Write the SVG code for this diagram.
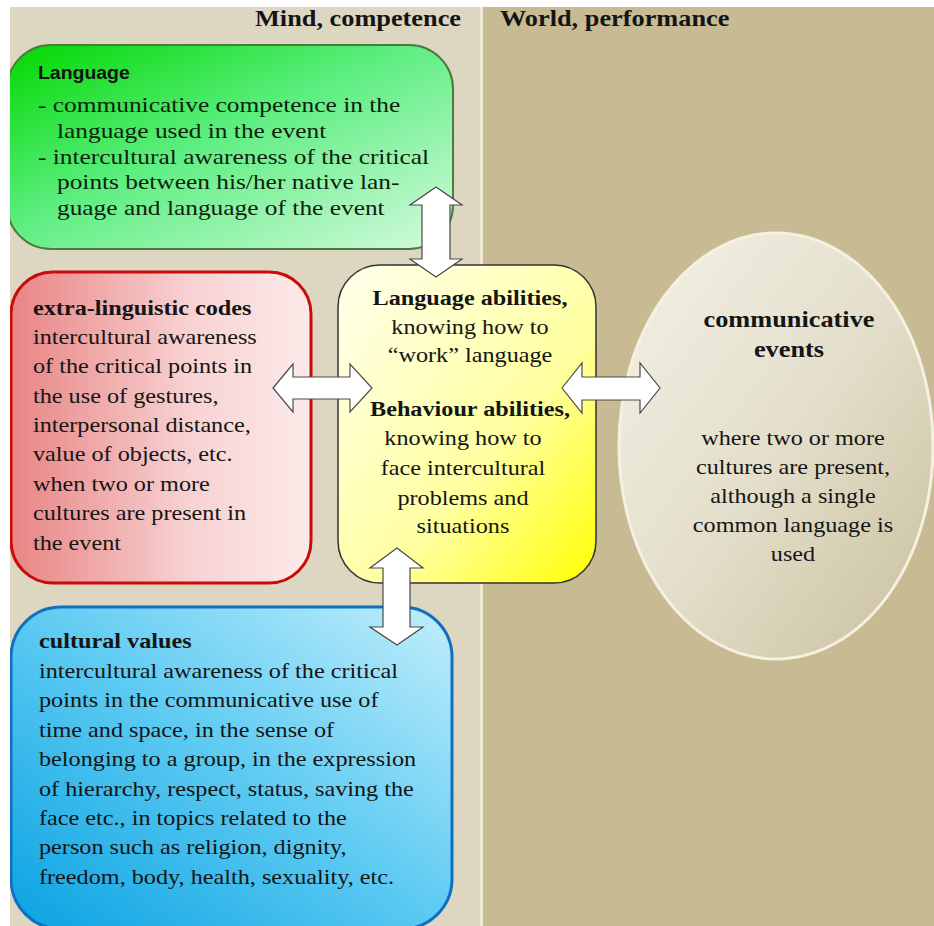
<svg xmlns="http://www.w3.org/2000/svg" width="934" height="926" viewBox="0 0 934 926">
<defs>
<style>
.t{font-family:"Liberation Serif","Times New Roman",serif;font-size:20.7px;fill:#151515}
.tg{font-family:"Liberation Serif","Times New Roman",serif;font-size:21.7px;fill:#0f1f0f}
.b{font-weight:bold}
.h{font-family:"Liberation Serif","Times New Roman",serif;font-size:22.5px;font-weight:bold;fill:#141414}
.s{font-family:"Liberation Sans",Arial,sans-serif;font-size:18px;font-weight:bold;fill:#111}
.arr{fill:#fff;stroke:#4a4a4a;stroke-width:1.2;stroke-linejoin:miter}
</style>
<linearGradient id="gGreen" x1="0" y1="0" x2="1" y2="1">
<stop offset="0" stop-color="#00d800"/>
<stop offset="0.45" stop-color="#5cee80"/>
<stop offset="1" stop-color="#d6fadf"/>
</linearGradient>
<linearGradient id="gRed" x1="0" y1="0" x2="1" y2="0">
<stop offset="0" stop-color="#e88484"/>
<stop offset="0.6" stop-color="#f8d2d2"/>
<stop offset="1" stop-color="#fdeaea"/>
</linearGradient>
<linearGradient id="gYellow" x1="0" y1="0" x2="1" y2="1">
<stop offset="0" stop-color="#ffffee"/>
<stop offset="0.6" stop-color="#ffffa0"/>
<stop offset="1" stop-color="#ffff00"/>
</linearGradient>
<linearGradient id="gBlue" x1="0" y1="1" x2="1" y2="0">
<stop offset="0" stop-color="#0aa2e2"/>
<stop offset="0.5" stop-color="#5ccaf2"/>
<stop offset="1" stop-color="#c2eefb"/>
</linearGradient>
<linearGradient id="gEll" x1="0" y1="0" x2="1" y2="1">
<stop offset="0" stop-color="#f4f1e6"/>
<stop offset="0.5" stop-color="#e4dfcc"/>
<stop offset="1" stop-color="#c9bf9c"/>
</linearGradient>
<clipPath id="panel"><rect x="10" y="7" width="924" height="919"/></clipPath>
</defs>

<g id="background">
<rect x="0" y="0" width="934" height="926" fill="#ffffff"/>
<rect x="10" y="7" width="471" height="919" fill="#ddd6c0"/>
<rect x="480" y="7" width="3" height="919" fill="#efe9d7"/>
<rect x="483" y="7" width="451" height="919" fill="#c8bb94"/>
<g transform="matrix(1.17 0 0 1 255 26)"><text class="h" x="0" y="0">Mind, competence</text></g>
<g transform="matrix(1.17 0 0 1 500 26)"><text class="h" x="0" y="0">World, performance</text></g>
</g>

<g clip-path="url(#panel)">
<g id="language">
<rect x="7" y="45" width="446" height="204" rx="44" ry="44" fill="url(#gGreen)" stroke="#4c7a3c" stroke-width="2"/>
<g transform="matrix(1.08 0 0 1 38 0)">
<text class="s" x="0" y="79">Language</text>
</g>
<g transform="matrix(1.17 0 0 1 38 0)">
<text class="tg" x="0" y="112">- communicative competence in the</text>
<text class="tg" x="16.2" y="138">language used in the event</text>
<text class="tg" x="0" y="164">- intercultural awareness of the critical</text>
<text class="tg" x="16.2" y="189">points between his/her native lan-</text>
<text class="tg" x="16.2" y="215">guage and language of the event</text>
</g>
</g>

<g id="extra-linguistic">
<rect x="11" y="272" width="300" height="311" rx="42" ry="42" fill="url(#gRed)" stroke="#cc0a0a" stroke-width="3"/>
<g transform="matrix(1.17 0 0 1 33 0)">
<text class="t b" x="0" y="315">extra-linguistic codes</text>
<text class="t" x="0" y="344">intercultural awareness</text>
<text class="t" x="0" y="373">of the critical points in</text>
<text class="t" x="0" y="403">the use of gestures,</text>
<text class="t" x="0" y="432">interpersonal distance,</text>
<text class="t" x="0" y="461">value of objects, etc.</text>
<text class="t" x="0" y="491">when two or more</text>
<text class="t" x="0" y="520">cultures are present in</text>
<text class="t" x="0" y="550">the event</text>
</g>
</g>

<g id="abilities">
<rect x="338" y="265" width="258" height="318" rx="42" ry="42" fill="url(#gYellow)" stroke="#333" stroke-width="1.5"/>
<g transform="matrix(1.17 0 0 1 470 0)" text-anchor="middle">
<text class="t b" x="0" y="305">Language abilities,</text>
<text class="t" x="0" y="334">knowing how to</text>
<text class="t" x="0" y="362">“work” language</text>
<text class="t b" x="0" y="416">Behaviour abilities,</text>
</g>
<g transform="matrix(1.17 0 0 1 463 0)" text-anchor="middle">
<text class="t" x="0" y="445">knowing how to</text>
<text class="t" x="0" y="475">face intercultural</text>
<text class="t" x="0" y="505">problems and</text>
<text class="t" x="0" y="533">situations</text>
</g>
</g>

<g id="events">
<ellipse cx="776" cy="446" rx="157" ry="213" fill="url(#gEll)" stroke="#f4f0e2" stroke-width="3"/>
<g transform="matrix(1.17 0 0 1 789 0)" text-anchor="middle">
<text class="t b" x="0" y="327" style="font-size:22.5px">communicative</text>
<text class="t b" x="0" y="357" style="font-size:22.5px">events</text>
</g>
<g transform="matrix(1.17 0 0 1 793 0)" text-anchor="middle">
<text class="t" x="0" y="445">where two or more</text>
<text class="t" x="0" y="474">cultures are present,</text>
<text class="t" x="0" y="503">although a single</text>
<text class="t" x="0" y="532">common language is</text>
<text class="t" x="0" y="561">used</text>
</g>
</g>

<g id="cultural-values">
<rect x="11" y="607" width="441" height="322" rx="50" ry="50" fill="url(#gBlue)" stroke="#1070c0" stroke-width="3"/>
<g transform="matrix(1.17 0 0 1 39 0)">
<text class="t b" x="0" y="648">cultural values</text>
<text class="t" x="0" y="678">intercultural awareness of the critical</text>
<text class="t" x="0" y="707">points in the communicative use of</text>
<text class="t" x="0" y="737">time and space, in the sense of</text>
<text class="t" x="0" y="766">belonging to a group, in the expression</text>
<text class="t" x="0" y="796">of hierarchy, respect, status, saving the</text>
<text class="t" x="0" y="825">face etc., in topics related to the</text>
<text class="t" x="0" y="854">person such as religion, dignity,</text>
<text class="t" x="0" y="884">freedom, body, health, sexuality, etc.</text>
</g>
</g>
</g>

<g id="connectors">
<polygon class="arr" points="436,187 462,205 450,205 450,259 462,259 436,277 410,259 422,259 422,205 410,205"/>
<polygon class="arr" points="273,388 293,364 293,377 350,377 350,364 372,388 350,412 350,399 293,399 293,412"/>
<polygon class="arr" points="562,388 582,363 582,377 640,377 640,363 660,388 640,413 640,400 582,400 582,413"/>
<polygon class="arr" points="397,548 423,568 410,568 410,627 423,627 397,645 370,627 383,627 383,568 370,568"/>
</g>
</svg>
